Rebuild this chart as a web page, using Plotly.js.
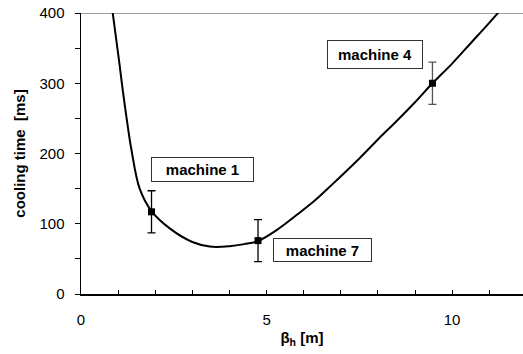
<!DOCTYPE html>
<html>
<head>
<meta charset="utf-8">
<script src="https://cdn.plot.ly/plotly-3.0.1.min.js"></script>
<style>html,body{margin:0;padding:0;background:#fff;overflow:hidden}</style>
</head>
<body>
<div id="chart" style="width:523px;height:354px"></div>
<script>
// Model curve (cooling time vs beta_h)
const curveX = [0.85, 1.04, 1.13, 1.27, 1.36, 1.58, 1.9, 2.4, 3.0, 3.47, 4.0, 4.4, 4.77, 5.3, 5.8, 6.3, 6.75, 7.5, 8.0, 8.5, 9.0, 9.47, 10.0, 10.5, 11.0, 11.3];
const curveY = [402, 326, 288, 235, 205, 150, 118, 93, 74, 67.5, 68, 71, 75.4, 92, 112, 133, 155, 193, 220, 246, 273, 300, 328, 357, 386, 404];

// Measured machines
const machineNames = ["machine 1", "machine 7", "machine 4"];
const machineX = [1.9, 4.77, 9.47];
const machineY = [117, 76, 300];
const machineErr = [30, 30, 30];

// Axis tick labels
const xTickVals = [0, 5, 10];
const yTickVals = [0, 100, 200, 300, 400];

const traces = [
  {
    x: curveX, y: curveY, mode: 'lines', type: 'scatter',
    line: {color: '#000', width: 2, shape: 'spline', smoothing: 1},
    hoverinfo: 'skip', showlegend: false
  },
  {
    x: machineX.slice(0, 2), y: machineY.slice(0, 2), mode: 'markers', type: 'scatter',
    marker: {symbol: 'square', size: 7, color: '#000'},
    error_y: {type: 'data', array: machineErr.slice(0, 2), color: '#000', thickness: 1.3, width: 4},
    showlegend: false
  },
  {
    x: machineX.slice(2), y: machineY.slice(2), mode: 'markers', type: 'scatter',
    marker: {symbol: 'square', size: 7, color: '#000'},
    error_y: {type: 'data', array: machineErr.slice(2), color: '#555', thickness: 1.3, width: 4},
    showlegend: false
  }
];

const boxFont = {family: 'Liberation Sans, Arial, sans-serif', size: 15, color: '#000'};
const annPos = [
  {x: 3.27, y: 177, w: 101, h: 23},
  {x: 6.51, y: 62, w: 97, h: 22},
  {x: 7.92, y: 341, w: 94, h: 27}
];
const annotations = machineNames.map((t, i) => ({
  x: annPos[i].x, y: annPos[i].y, xref: 'x', yref: 'y',
  text: '<b>' + t + '</b>', showarrow: false,
  bgcolor: '#fff', bordercolor: '#333', borderwidth: 1, borderpad: 0,
  width: annPos[i].w, height: annPos[i].h,
  font: boxFont, xanchor: 'center', yanchor: 'middle'
}));

const layout = {
  width: 523, height: 354,
  margin: {l: 81, r: 0, t: 13, b: 60},
  paper_bgcolor: '#fff', plot_bgcolor: '#fff',
  font: {family: 'Liberation Sans, Arial, sans-serif', size: 15, color: '#000'},
  xaxis: {
    range: [0, 11.91], showgrid: false, zeroline: false,
    showline: true, linecolor: '#000', linewidth: 1.5,
    tickmode: 'array', tickvals: xTickVals, ticktext: xTickVals.map(String),
    ticks: 'inside', ticklen: 4, tickwidth: 1, tickcolor: '#000',
    minor: {dtick: 1, tick0: 0, ticks: 'inside', ticklen: 4, tickwidth: 1, tickcolor: '#000'},
    ticklabelstandoff: 11,
    tickfont: {size: 15},
    title: {text: '<b>β<sub>h</sub> [m]</b>', font: {size: 15}, standoff: 6}
  },
  yaxis: {
    range: [0, 400], showgrid: false, zeroline: false,
    showline: true, linecolor: '#000', linewidth: 1.5,
    tickmode: 'array', tickvals: yTickVals, ticktext: yTickVals.map(String),
    ticks: 'outside', ticklen: 5, tickwidth: 1, tickcolor: '#000',
    minor: {dtick: 50, tick0: 0, ticks: 'outside', ticklen: 5, tickwidth: 1, tickcolor: '#000'},
    ticklabelstandoff: 7,
    tickfont: {size: 15},
    title: {text: '<b>cooling time\u00a0\u00a0[ms]</b>', font: {size: 15}, standoff: 10}
  },
  shapes: [
    {type: 'line', xref: 'paper', yref: 'y', x0: 0, x1: 1, y0: 400, y1: 400,
     line: {color: '#808080', width: 1.5}, layer: 'below'}
  ],
  annotations: annotations
};

Plotly.newPlot('chart', traces, layout, {staticPlot: true, displayModeBar: false});
</script>
</body>
</html>
